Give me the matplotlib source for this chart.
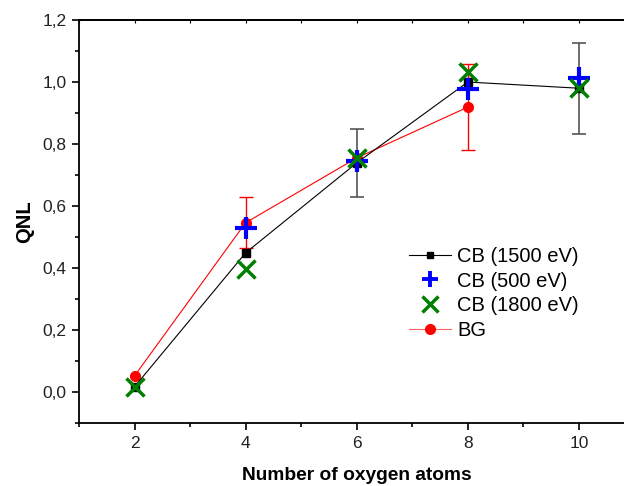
import numpy as np
import matplotlib
matplotlib.use("Agg")
import matplotlib.pyplot as plt
from matplotlib.ticker import MultipleLocator, FuncFormatter

plt.rcParams['font.family'] = ['Liberation Sans', 'DejaVu Sans']

# data
x = [2, 4, 6, 8, 10]
cb1500 = [0.017, 0.449, 0.739, 1.0, 0.98]
cb1500_err = [0, 0, 0.11, 0, 0.147]
x_500 = [4, 6, 8, 10]
cb500 = [0.53, 0.745, 0.976, 1.014]
cb1800 = [0.017, 0.396, 0.755, 1.033, 0.98]
x_bg = [2, 4, 6, 8]
bg = [0.052, 0.546, 0.755, 0.919]
bg_err = [0, 0.082, 0, 0.139]

fig = plt.figure(figsize=(6.24, 4.86), dpi=100)
ax = fig.add_axes([0.1266, 0.1296, 0.89, 0.8292])

# error bars (only where non-zero)
e1 = [i for i in range(len(x)) if cb1500_err[i] > 0]
ax.errorbar([x[i] for i in e1], [cb1500[i] for i in e1], yerr=[cb1500_err[i] for i in e1],
            fmt='none', ecolor='#555555', elinewidth=1.2, capsize=5, capthick=1.2, zorder=2)
e2 = [i for i in range(len(x_bg)) if bg_err[i] > 0]
ax.errorbar([x_bg[i] for i in e2], [bg[i] for i in e2], yerr=[bg_err[i] for i in e2],
            fmt='none', ecolor='red', elinewidth=1.0, capsize=5, capthick=1.0, zorder=2)

l1, = ax.plot(x, cb1500, color='black', lw=0.8, marker='s', ms=6, label='CB (1500 eV)', zorder=4)
l4, = ax.plot(x_bg, bg, color='red', lw=0.8, marker='o', ms=7, label='BG', zorder=3)
l2, = ax.plot(x_500, cb500, ls='none', color='blue', marker='+', ms=16, mew=3, label='CB (500 eV)', zorder=5)
l3, = ax.plot(x, cb1800, ls='none', color='green', marker='x', ms=13, mew=2.5, label='CB (1800 eV)', zorder=6)

ax.set_xlim(1, 11)
ax.set_ylim(-0.1, 1.2)
ax.xaxis.set_major_locator(MultipleLocator(2))
ax.xaxis.set_minor_locator(MultipleLocator(1))
ax.yaxis.set_major_locator(MultipleLocator(0.2))
ax.yaxis.set_minor_locator(MultipleLocator(0.1))
ax.yaxis.set_major_formatter(FuncFormatter(lambda v, p: f"{v:.1f}".replace('.', ',')))
ax.xaxis.set_major_formatter(FuncFormatter(lambda v, p: f"{int(round(v))}"))

ax.tick_params(axis='both', which='major', direction='out', length=5, width=1.2, labelsize=12.5,
               labelcolor='#222222', pad=4)
ax.tick_params(axis='both', which='minor', direction='out', length=3, width=1.2)
for s in ax.spines.values():
    s.set_linewidth(1.3)

# small inward ticks along the top edge
top = ax.secondary_xaxis('top')
top.xaxis.set_major_locator(MultipleLocator(1))
top.tick_params(direction='in', length=2.5, width=0.8, labeltop=False)
top.spines['top'].set_linewidth(1.3)

ax.set_ylabel('QNL', fontsize=14.5, fontweight='bold', labelpad=6)
ax.set_xlabel('Number of oxygen atoms', fontsize=13.8, fontweight='bold', labelpad=12)

leg = ax.legend(handles=[l1, l2, l3, l4], loc='upper left', bbox_to_anchor=(0.569, 0.472),
                frameon=False, fontsize=14.5, handlelength=2.1, handletextpad=0.3,
                labelspacing=0.28, borderpad=0.2)
lh = leg.legend_handles
lh[0].set_markersize(5)
lh[1].set_markersize(12)
lh[1].set_markeredgewidth(2.8)
lh[2].set_markersize(11)
lh[2].set_markeredgewidth(2.5)
lh[3].set_markersize(7)
lh[3].set_color('#ff6060')
lh[3].set_markerfacecolor('red')
lh[3].set_markeredgecolor('red')

fig.savefig('out.png', dpi=100)
